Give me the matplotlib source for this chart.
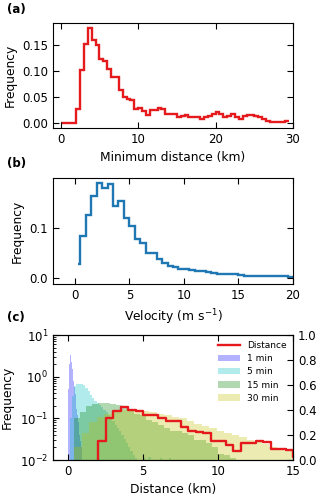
import numpy as np
import matplotlib
matplotlib.use('Agg')
import matplotlib.pyplot as plt
from matplotlib.ticker import MultipleLocator, FormatStrFormatter

plt.rcParams['font.family'] = 'DejaVu Sans'
plt.rcParams['font.size'] = 8.8

# minimum distance histogram (0.5 km bins, 0 - 29.5 km)
dist_edges = np.arange(0, 29.51, 0.5)
dist_freq = [0, 0, 0, 0, 0.028, 0.102, 0.151, 0.182, 0.158, 0.149,
             0.122, 0.119, 0.103, 0.088, 0.088, 0.063, 0.050, 0.046, 0.045, 0.028,
             0.029, 0.023, 0.016, 0.026, 0.026, 0.029, 0.027, 0.018, 0.018, 0.017,
             0.012, 0.014, 0.015, 0.011, 0.011, 0.011, 0.008, 0.011, 0.014, 0.017,
             0.021, 0.017, 0.012, 0.014, 0.017, 0.011, 0.009, 0.013, 0.015, 0.015,
             0.014, 0.011, 0.008, 0.005, 0.003, 0.003, 0.003, 0.003, 0.005]

# velocity histogram
vel_edges = np.concatenate([[0.25], np.arange(0.5, 20.01, 0.5)])
vel_freq = [0.028, 0.084, 0.125, 0.163, 0.188, 0.179, 0.186, 0.143, 0.153, 0.120,
            0.103, 0.077, 0.069, 0.051, 0.050, 0.038, 0.030, 0.025, 0.022, 0.019,
            0.018, 0.017, 0.014, 0.015, 0.012, 0.010, 0.009, 0.008, 0.008, 0.008,
            0.007, 0.005, 0.005, 0.005, 0.004, 0.004, 0.004, 0.004, 0.004, 0.002]

# displacement distributions after different time lags
edges_1 = np.arange(0, 0.951, 0.05)
freq_1 = [0.5, 2.0, 3.0, 3.4, 2.2, 1.5, 1.1, 0.8, 0.55, 0.38,
          0.26, 0.17, 0.12, 0.08, 0.055, 0.04, 0.028, 0.02, 0.014]

edges_5 = np.arange(0.1, 7.01, 0.15)
freq_5 = [0.1, 0.35, 0.6, 0.68, 0.68, 0.66, 0.62, 0.52, 0.45, 0.36,
          0.30, 0.26, 0.23, 0.21, 0.19, 0.16, 0.14, 0.12, 0.10, 0.085,
          0.07, 0.06, 0.05, 0.04, 0.032, 0.026, 0.02, 0.016, 0.013, 0.011,
          0, 0, 0, 0.011, 0, 0.012, 0, 0, 0, 0,
          0.011, 0, 0, 0, 0.011, 0]

edges_15 = np.arange(0.4, 11.21, 0.4)
freq_15 = [0.10, 0.14, 0.20, 0.22, 0.23, 0.23, 0.22, 0.21, 0.19, 0.15,
           0.13, 0.12, 0.09, 0.08, 0.07, 0.06, 0.05, 0.05, 0.045, 0.04,
           0.03, 0.03, 0.025, 0.02, 0.014, 0.013, 0.011]

edges_30 = np.arange(0.4, 15.41, 0.5)
freq_30 = [0.02, 0.045, 0.08, 0.11, 0.13, 0.15, 0.16, 0.16, 0.155, 0.15,
           0.14, 0.13, 0.12, 0.11, 0.10, 0.085, 0.075, 0.065, 0.06, 0.05,
           0.045, 0.04, 0.035, 0.03, 0.027, 0.024, 0.02, 0.018, 0.016, 0.015]

lag_labels = ['1 min', '5 min', '15 min', '30 min']
lag_colors = ['b', 'c', 'g', 'y']

fig = plt.figure(figsize=(3.2, 4.98), dpi=100)
W, H = 320, 498


def box(l, t, r, b):
    return [l / W, 1 - b / H, (r - l) / W, (b - t) / H]


def style(ax, right=True):
    ax.tick_params(direction='in', top=True, right=right, length=4, width=0.8,
                   labelsize=8.5)
    ax.tick_params(which='minor', direction='in', top=False, right=right, length=2)


# (a)
ax1 = fig.add_axes(box(53, 23, 293, 128))
ax1.stairs(dist_freq, dist_edges, baseline=None, color='#e41a1c', lw=1.7)
ax1.set_xlim(-1, 30)
ax1.set_ylim(-0.0091, 0.191)
ax1.xaxis.set_major_locator(MultipleLocator(10))
ax1.yaxis.set_major_locator(MultipleLocator(0.05))
ax1.yaxis.set_major_formatter(FormatStrFormatter('%.2f'))
ax1.set_xlabel('Minimum distance (km)')
ax1.set_ylabel('Frequency')
style(ax1)

# (b)
ax2 = fig.add_axes(box(53, 178, 293, 284))
ax2.stairs(vel_freq, vel_edges, baseline=None, color='#1f77b4', lw=1.7)
ax2.set_xlim(-2, 20)
ax2.set_ylim(-0.011, 0.198)
ax2.xaxis.set_major_locator(MultipleLocator(5))
ax2.yaxis.set_major_locator(MultipleLocator(0.1))
ax2.yaxis.set_major_formatter(FormatStrFormatter('%.1f'))
ax2.set_xlabel('Velocity (m s$^{-1}$)')
ax2.set_ylabel('Frequency')
style(ax2)

# (c)
ax3 = fig.add_axes(box(53, 335, 293, 460))
ax3.set_yscale('log')
ax3.step(np.append(dist_edges[:-1], dist_edges[-1]),
         np.append(dist_freq, dist_freq[-1]), where='post',
         color='#e41a1c', lw=1.7, zorder=5, label='Distance')
for e, f, c, lab in zip([edges_1, edges_5, edges_15, edges_30],
                        [freq_1, freq_5, freq_15, freq_30], lag_colors, lag_labels):
    f = np.array(f, dtype=float)
    f[f <= 0] = 1e-4
    ax3.stairs(f, e, baseline=1e-4, fill=True, color=c, alpha=0.3, lw=0, label=lab)
ax3.set_xlim(-1, 15)
ax3.set_ylim(1e-2, 1e1)
ax3.xaxis.set_major_locator(MultipleLocator(5))
ax3.set_xlabel('Distance (km)')
ax3.set_ylabel('Frequency')
style(ax3, right=False)
ax3.legend(loc='upper right', frameon=False, fontsize=6.5, handlelength=2.4,
           borderaxespad=0.3, labelspacing=0.45)

ax4 = ax3.twinx()
ax4.set_ylim(0, 1)
ax4.yaxis.set_major_locator(MultipleLocator(0.2))
ax4.yaxis.set_major_formatter(FormatStrFormatter('%.1f'))
ax4.tick_params(direction='in', length=4, width=0.8, labelsize=8.5)

for lab, y in [('(a)', 9), ('(b)', 163), ('(c)', 317)]:
    fig.text(7 / W, 1 - y / H, lab, fontweight='bold', fontsize=8.5, va='center')

fig.savefig('out.png', dpi=100)
